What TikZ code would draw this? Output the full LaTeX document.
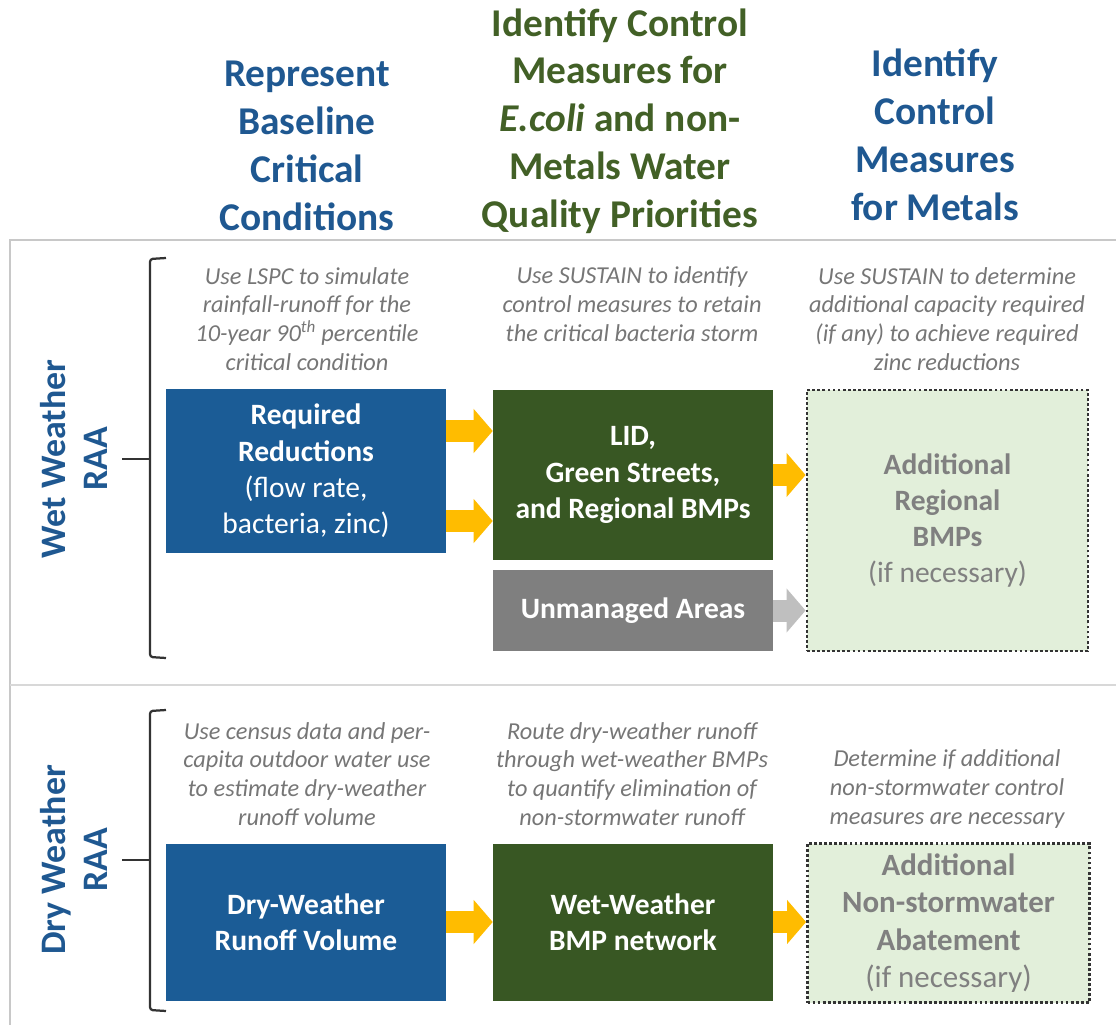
\documentclass[tikz,border=0pt]{standalone}
\usepackage{fontspec}
\setmainfont{Carlito}
\usetikzlibrary{arrows.meta}
\definecolor{HeadBlue}{RGB}{31,88,145}
\definecolor{HeadGreen}{RGB}{66,96,38}
\definecolor{BoxBlue}{RGB}{27,92,150}
\definecolor{BoxGreen}{RGB}{56,87,35}
\definecolor{BoxGray}{RGB}{127,127,127}
\definecolor{PaleGreen}{RGB}{226,239,218}
\definecolor{NoteGray}{RGB}{118,118,118}
\definecolor{ArrowGold}{RGB}{255,188,0}
\definecolor{ArrowGray}{RGB}{191,191,191}
\definecolor{FrameGray}{RGB}{200,200,200}
\newcommand\Px[1]{#1*0.7113pt}
\tikzset{
    heading/.style={font=\fontsize{28}{34}\selectfont\bfseries, align=center},
    note/.style={font=\fontsize{17.3}{20.5}\selectfont\itshape, text=NoteGray, align=center},
    rowlabel/.style={font=\fontsize{25.5}{30}\selectfont\bfseries, text=HeadBlue, align=center, rotate=90},
    stagebox/.style 2 args={minimum width=\Px{#1}, minimum height=\Px{#2}, inner sep=0pt,
        align=center, font=\fontsize{21}{25.8}\selectfont, text=white},
    extrabox/.style 2 args={stagebox={#1}{#2}, fill=PaleGreen, draw=black!80, line width=2pt,
        dash pattern=on 2pt off 1.6pt, text=black!50},
    flow/.style={draw=ArrowGold, line width=\Px{22}, -{Triangle[length=\Px{19}, width=\Px{43}]}},
    skipflow/.style={flow, draw=ArrowGray},
    brace/.style={draw=black!80, line width=1.6pt, rounded corners=2pt},
}
\begin{document}
\begin{tikzpicture}[x=0.7113pt, y=-0.7113pt]
    \useasboundingbox (0,0) rectangle (1116,1025);
    % panels
    \draw[FrameGray, line width=1.4pt] (10,1025) |- (1116,240);
    \draw[FrameGray!70, line width=1.4pt] (10,685) -- (1116,685);

    % column headings
    \node[heading, text=HeadBlue] (headbase) at (307,146) {Represent\\Baseline\\Critical\\Conditions};
    \node[heading, text=HeadGreen] (headecoli) at (620,121) {Identify Control\\Measures for\\\textit{E.coli} and non-\\Metals Water\\Quality Priorities};
    \node[heading, text=HeadBlue] (headmetal) at (935,135) {Identify\\Control\\Measures\\for Metals};

    % wet weather row
    \node[rowlabel] (wetlabel) at (74,459) {Wet Weather\\RAA};
    \node[note] (wetnote1) at (307,319) {Use LSPC to simulate\\rainfall-runoff for the\\10-year 90\textsuperscript{th} percentile\\critical condition};
    \node[note] (wetnote2) at (632,304) {Use SUSTAIN to identify\\control measures to retain\\the critical bacteria storm};
    \node[note] (wetnote3) at (947,319) {Use SUSTAIN to determine\\additional capacity required\\(if any) to achieve required\\zinc reductions};
    \node[stagebox={280}{164}, fill=BoxBlue] (req) at (306,471)
        {\textbf{Required}\\\textbf{Reductions}\\(flow rate,\\bacteria, zinc)};
    \node[stagebox={280}{170}, fill=BoxGreen] (lid) at (633,475)
        {\textbf{LID,}\\\textbf{Green Streets,}\\\textbf{and Regional BMPs}};
    \node[stagebox={280}{81}, fill=BoxGray] (unman) at (633,610.5) {\textbf{Unmanaged Areas}};
    \node[extrabox={281}{261}] (extrareg) at (947.5,520.5)
        {\textbf{Additional}\\\textbf{Regional}\\\textbf{BMPs}\\(if necessary)};
    \draw[flow] ([yshift=\Px{40}]req.east) -- ([yshift=\Px{40}]req.east -| lid.west);
    \draw[flow] ([yshift=\Px{-50}]req.east) -- ([yshift=\Px{-50}]req.east -| lid.west);
    \draw[flow] (lid.east) -- (lid.east -| extrareg.west);
    \draw[skipflow] (unman.east) -- (unman.east -| extrareg.west);
    \coordinate (wettip) at (122,459);
    \draw[brace] (166,258) -- (150,259) -- (150,657) -- (166,658);
    \draw[brace, rounded corners=0pt] (wettip) -- (150,459);

    % dry weather row
    \node[rowlabel] (drylabel) at (74,860) {Dry Weather\\RAA};
    \node[note] (drynote1) at (307,774) {Use census data and per-\\capita outdoor water use\\to estimate dry-weather\\runoff volume};
    \node[note] (drynote2) at (632,774) {Route dry-weather runoff\\through wet-weather BMPs\\to quantify elimination of\\non-stormwater runoff};
    \node[note] (drynote3) at (947,789) {Determine if additional\\non-stormwater control\\measures are necessary};
    \node[stagebox={280}{157}, fill=BoxBlue] (dryvol) at (306,922)
        {\textbf{Dry-Weather}\\\textbf{Runoff Volume}};
    \node[stagebox={280}{157}, fill=BoxGreen] (bmpnet) at (633,922)
        {\textbf{Wet-Weather}\\\textbf{BMP network}};
    \node[extrabox={282}{159}, font=\fontsize{22}{26.5}\selectfont] (extranon) at (948.5,923)
        {\textbf{Additional}\\\textbf{Non-stormwater}\\\textbf{Abatement}\\(if necessary)};
    \draw[flow] (dryvol.east) -- (dryvol.east -| bmpnet.west);
    \draw[flow] (bmpnet.east) -- (bmpnet.east -| extranon.west);
    \coordinate (drytip) at (122,860);
    \draw[brace] (166,710) -- (150,711) -- (150,1010) -- (166,1011);
    \draw[brace, rounded corners=0pt] (drytip) -- (150,860);
\end{tikzpicture}
\end{document}
